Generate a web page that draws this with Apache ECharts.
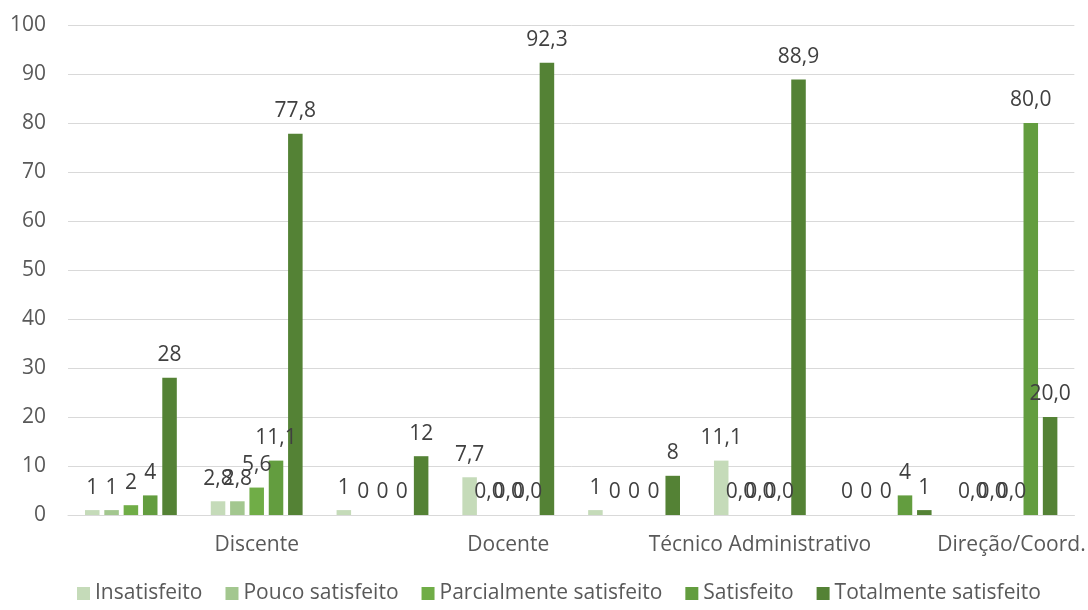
<!DOCTYPE html>
<html>
<head>
<meta charset="utf-8">
<script src="https://cdn.jsdelivr.net/npm/echarts@6/dist/echarts.min.js"></script>
<style>
    html, body { margin: 0; padding: 0; background: #ffffff; }
    #chart { width: 1088px; height: 610px; }
</style>
</head>
<body>
<div id="chart"></div>
<script>
    // categorias (as posições ímpares são os percentuais do grupo anterior)
    const categories = ['', 'Discente', '', 'Docente', '', 'Técnico Administrativo', '', 'Direção/Coord.'];
    const yTicks = [0, 100, 10];

    const seriesNames = ['Insatisfeito', 'Pouco satisfeito', 'Parcialmente satisfeito', 'Satisfeito', 'Totalmente satisfeito'];
    const insatisfeito = [1, 2.8, 1, 7.7, 1, 11.1, 0, 0.0];
    const poucoSatisfeito = [1, 2.8, 0, 0.0, 0, 0.0, 0, 0.0];
    const parcialmenteSatisfeito = [2, 5.6, 0, 0.0, 0, 0.0, 0, 0.0];
    const satisfeito = [4, 11.1, 0, 0.0, 0, 0.0, 4, 80.0];
    const totalmenteSatisfeito = [28, 77.8, 12, 92.3, 8, 88.9, 1, 20.0];

    const colors = ['#c5dbb9', '#a3c78f', '#70ad47', '#639d3f', '#548235'];
    const values = [insatisfeito, poucoSatisfeito, parcialmenteSatisfeito, satisfeito, totalmenteSatisfeito];

    const font = '"Open Sans", "Noto Sans", sans-serif';

    const fmt = (p) => {
        if (p.dataIndex % 2 === 1) return p.value.toFixed(1).replace('.', ',');
        return String(p.value);
    };

    const chart = echarts.init(document.getElementById('chart'));
    chart.setOption({
        animation: false,
        color: colors,
        grid: {
            left: 68,
            right: 3,
            top: 25,
            bottom: 95
        },
        legend: {
            bottom: 1,
            left: 72,
            itemWidth: 13,
            itemHeight: 13,
            itemGap: 23,
            icon: 'rect',
            textStyle: {
                color: '#595959',
                fontSize: 21,
                fontFamily: font
            },
            data: seriesNames
        },
        xAxis: {
            type: 'category',
            data: categories,
            axisTick: { show: false },
            axisLine: { lineStyle: { color: '#d9d9d9', width: 1 } },
            axisLabel: {
                color: '#595959',
                fontSize: 21,
                fontFamily: font,
                margin: 20,
                interval: 0
            }
        },
        yAxis: {
            type: 'value',
            min: yTicks[0],
            max: yTicks[1],
            interval: yTicks[2],
            axisLine: { show: false },
            axisTick: { show: false },
            splitLine: { lineStyle: { color: '#d9d9d9', width: 1 } },
            axisLabel: {
                color: '#595959',
                fontSize: 21,
                fontFamily: font,
                margin: 22
            }
        },
        series: seriesNames.map((name, i) => ({
            name: name,
            type: 'bar',
            data: values[i],
            barGap: '33%',
            barCategoryGap: '27%',
            label: {
                show: true,
                position: 'top',
                distance: 12,
                color: '#404040',
                fontSize: 21,
                fontFamily: font,
                formatter: fmt
            }
        }))
    });
</script>
</body>
</html>
